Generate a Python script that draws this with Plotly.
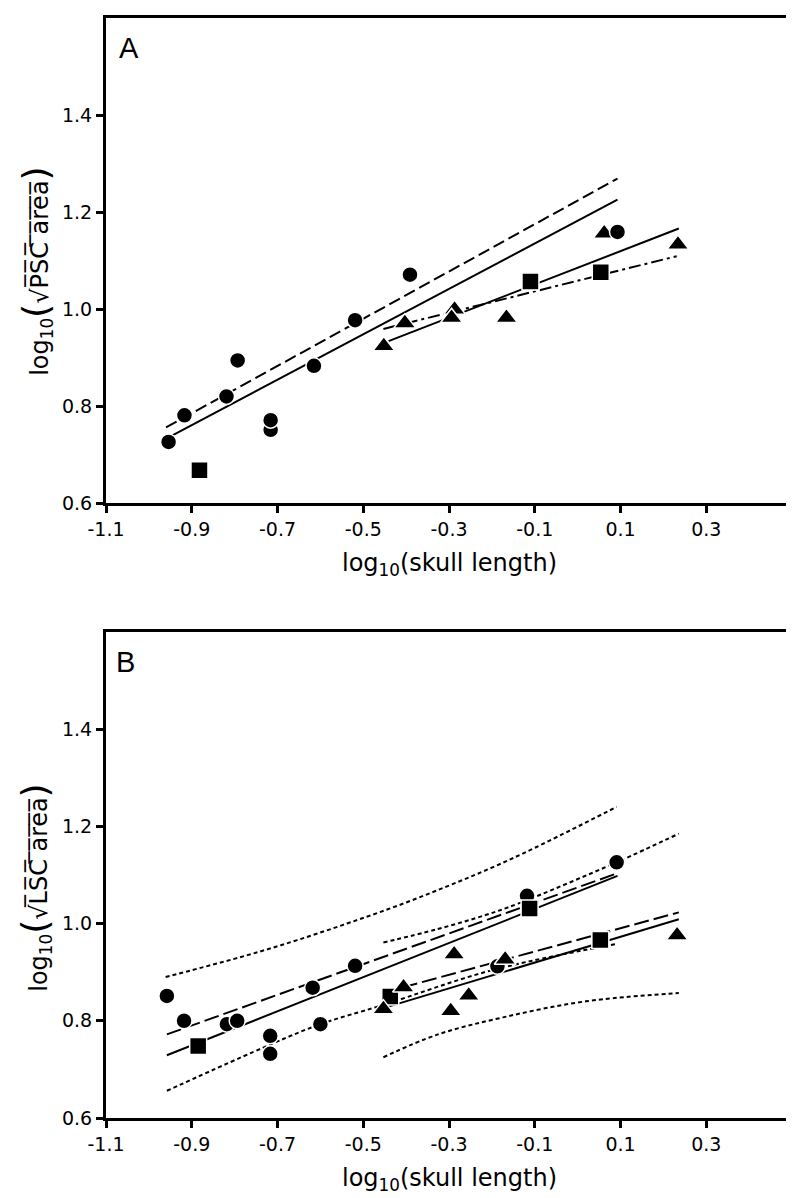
import plotly.graph_objects as go

# ---------------- Panel A data ----------------
circ_a_x = [-0.954, -0.917, -0.819, -0.793, -0.716, -0.716, -0.615, -0.519, -0.391, 0.093]
circ_a_y = [0.726, 0.781, 0.820, 0.894, 0.751, 0.771, 0.883, 0.977, 1.071, 1.159]
tri_a_x = [-0.452, -0.403, -0.287, -0.294, -0.166, 0.062, 0.234]
tri_a_y = [0.924, 0.971, 0.999, 0.982, 0.982, 1.156, 1.133]
sq_a_x = [-0.882, -0.110, 0.054]
sq_a_y = [0.668, 1.057, 1.076]

fitA_solid1_x = [-0.955, 0.093]
fitA_solid1_y = [0.735, 1.2255]
fitA_dash1_x = [-0.960, 0.093]
fitA_dash1_y = [0.756, 1.269]
fitA_solid2_x = [-0.441, 0.236]
fitA_solid2_y = [0.934, 1.166]
fitA_dashdot_x = [-0.453, 0.231]
fitA_dashdot_y = [0.959, 1.109]

# ---------------- Panel B data ----------------
circ_b_x = [-0.958, -0.918, -0.818, -0.794, -0.717, -0.717, -0.618, -0.600, -0.519, -0.187, -0.118, 0.091]
circ_b_y = [0.851, 0.800, 0.793, 0.800, 0.732, 0.769, 0.868, 0.793, 0.913, 0.912, 1.057, 1.126]
sq_b_x = [-0.885, -0.437, -0.112, 0.053]
sq_b_y = [0.748, 0.850, 1.031, 0.966]
tri_b_x = [-0.453, -0.406, -0.288, -0.296, -0.254, -0.169, 0.232]
tri_b_y = [0.824, 0.869, 0.937, 0.820, 0.852, 0.926, 0.976]

fitB_solid1_x = [-0.958, 0.093]
fitB_solid1_y = [0.729, 1.098]
fitB_dash1_x = [-0.958, 0.091]
fitB_dash1_y = [0.772, 1.103]
fitB_solid2_x = [-0.453, 0.236]
fitB_solid2_y = [0.826, 1.009]
fitB_dash2_x = [-0.453, 0.236]
fitB_dash2_y = [0.858, 1.023]

ciB1_up_x = [-0.961, -0.770, -0.654, -0.538, -0.422, -0.306, -0.200, -0.097, 0.091]
ciB1_up_y = [0.890, 0.935, 0.966, 1.000, 1.036, 1.076, 1.115, 1.157, 1.240]
ciB1_lo_x = [-0.958, -0.717, -0.600, -0.452, -0.200, 0.091]
ciB1_lo_y = [0.656, 0.751, 0.793, 0.833, 0.904, 0.958]
ciB2_up_x = [-0.453, -0.329, -0.213, -0.139, 0.091, 0.236]
ciB2_up_y = [0.961, 0.988, 1.018, 1.041, 1.126, 1.185]
ciB2_lo_x = [-0.453, -0.329, -0.174, 0.019, 0.236]
ciB2_lo_y = [0.725, 0.771, 0.807, 0.840, 0.857]

x_ticks = [-1.1, -0.9, -0.7, -0.5, -0.3, -0.1, 0.1, 0.3]
x_tick_text = ["-1.1", "-0.9", "-0.7", "-0.5", "-0.3", "-0.1", "0.1", "0.3"]
y_ticks = [0.6, 0.8, 1.0, 1.2, 1.4]
y_tick_text = ["0.6", "0.8", "1.0", "1.2", "1.4"]

LW = 2
DOT = "4px,3px"
DASH_A = "12px,5px"
DASH_B = "15px,5px"
DASHDOT = "12px,4px,3px,4px"

fig = go.Figure()


def line(x, y, dash, xa, ya, shape="linear"):
    fig.add_trace(go.Scatter(x=x, y=y, mode="lines", xaxis=xa, yaxis=ya,
                             line=dict(color="black", width=LW, dash=dash, shape=shape,
                                       smoothing=1.0),
                             hoverinfo="skip", showlegend=False))


def pts(x, y, symbol, size, xa, ya):
    fig.add_trace(go.Scatter(x=x, y=y, mode="markers", xaxis=xa, yaxis=ya,
                             marker=dict(symbol=symbol, size=size, color="black",
                                         line=dict(color="white", width=1.5)),
                             showlegend=False))


# Panel A
line(fitA_dash1_x, fitA_dash1_y, DASH_A, "x", "y")
line(fitA_solid1_x, fitA_solid1_y, "solid", "x", "y")
line(fitA_solid2_x, fitA_solid2_y, "solid", "x", "y")
line(fitA_dashdot_x, fitA_dashdot_y, DASHDOT, "x", "y")
pts(tri_a_x, tri_a_y, "triangle-up", 19, "x", "y")
pts(sq_a_x, sq_a_y, "square", 17, "x", "y")
pts(circ_a_x, circ_a_y, "circle", 16, "x", "y")

# Panel B
line(ciB1_up_x, ciB1_up_y, DOT, "x2", "y2", "spline")
line(ciB1_lo_x, ciB1_lo_y, DOT, "x2", "y2", "spline")
line(ciB2_up_x, ciB2_up_y, DOT, "x2", "y2", "spline")
line(ciB2_lo_x, ciB2_lo_y, DOT, "x2", "y2", "spline")
line(fitB_dash1_x, fitB_dash1_y, DASH_B, "x2", "y2")
line(fitB_solid1_x, fitB_solid1_y, "solid", "x2", "y2")
line(fitB_dash2_x, fitB_dash2_y, DASH_B, "x2", "y2")
line(fitB_solid2_x, fitB_solid2_y, "solid", "x2", "y2")
pts(circ_b_x, circ_b_y, "circle", 16, "x2", "y2")
pts(sq_b_x, sq_b_y, "square", 17, "x2", "y2")
pts(tri_b_x, tri_b_y, "triangle-up", 19, "x2", "y2")

TICKFONT = dict(family="DejaVu Sans", size=19, color="black")
common_x = dict(range=[-1.1, 0.5], tickmode="array", tickvals=x_ticks, ticktext=x_tick_text,
                showline=True, linecolor="black", linewidth=3, mirror=True,
                ticks="outside", ticklen=7, tickwidth=3, tickcolor="black",
                showgrid=False, zeroline=False, tickfont=TICKFONT)
common_y = dict(range=[0.6, 1.6], tickmode="array", tickvals=y_ticks, ticktext=y_tick_text,
                showline=True, linecolor="black", linewidth=3, mirror=True,
                ticks="outside", ticklen=7, tickwidth=3, tickcolor="black",
                showgrid=False, zeroline=False, tickfont=TICKFONT)

W, H = 794, 1198
ML, MR, MT, MB = 98, 7, 8, 88
PW, PH = W - ML - MR, H - MT - MB


def py(p):
    return (H - MB - p) / PH


def px(p):
    return (p - ML) / PW


fig.update_layout(
    width=W, height=H,
    margin=dict(l=ML, r=MR, t=MT, b=MB),
    paper_bgcolor="white", plot_bgcolor="white",
    xaxis=dict(domain=[0, 1], anchor="y", **common_x),
    yaxis=dict(domain=[py(494), 1], anchor="x", **common_y),
    xaxis2=dict(domain=[0, 1], anchor="y2", **common_x),
    yaxis2=dict(domain=[0, py(623)], anchor="x2", **common_y),
)

TITLEFONT = dict(family="DejaVu Sans", size=24, color="black")


def ovl(s):
    return "".join(c + "\u0305" for c in s)


def ytitle(name):
    big = "<span style='font-size:36px'>%s</span>"
    return "log<sub>10</sub>" + big % "(" + "\u221a" + ovl(name + " area") + big % ")"


xtitle = "log<sub>10</sub>(skull length)"

ann = [
    dict(text=xtitle, x=0.5, y=py(555), xref="paper", yref="paper",
         showarrow=False, xanchor="center", yanchor="middle", font=TITLEFONT),
    dict(text=xtitle, x=0.5, y=py(1172), xref="paper", yref="paper",
         showarrow=False, xanchor="center", yanchor="middle", font=TITLEFONT),
    dict(text=ytitle("PSC"), x=px(27), y=py(262), xref="paper", yref="paper",
         showarrow=False, xanchor="center", yanchor="middle", textangle=-90, font=TITLEFONT),
    dict(text=ytitle("LSC"), x=px(27), y=py(879), xref="paper", yref="paper",
         showarrow=False, xanchor="center", yanchor="middle", textangle=-90, font=TITLEFONT),
    dict(text="A", x=px(121.5), y=py(38), xref="paper", yref="paper",
         showarrow=False, xanchor="center", yanchor="middle",
         font=dict(family="Liberation Sans", size=29, color="black")),
    dict(text="B", x=px(118), y=py(653), xref="paper", yref="paper",
         showarrow=False, xanchor="center", yanchor="middle",
         font=dict(family="Liberation Sans", size=29, color="black")),
]
fig.update_layout(annotations=ann)

fig.write_html("out.html")
